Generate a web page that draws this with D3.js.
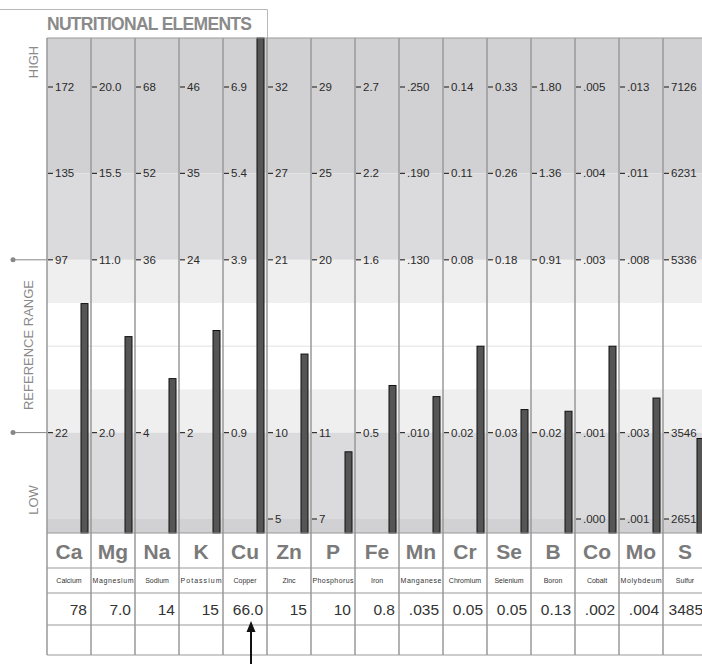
<!DOCTYPE html>
<meta charset="utf-8">
<style type="text/css">
body { margin: 0; background: #fff; }
svg { font-family: "Liberation Sans", Arial, Helvetica, sans-serif; }
</style>
<body>
<script src="https://d3js.org/d3.v7.min.js"></script>
<script>
// Data
let symbols = ["Ca", "Mg", "Na", "K", "Cu", "Zn", "P", "Fe", "Mn", "Cr", "Se", "B", "Co", "Mo", "S"];
let names = ["Calcium", "Magnesium", "Sodium", "Potassium", "Copper", "Zinc", "Phosphorus", "Iron",
             "Manganese", "Chromium", "Selenium", "Boron", "Cobalt", "Molybdeum", "Sulfur"];
let results = ["78", "7.0", "14", "15", "66.0", "15", "10", "0.8", ".035", "0.05", "0.05", "0.13", ".002", ".004", "3485"];
// tick labels for each column, by level (0 = top / high, 4 = low, 5 = bottom)
let highTicks  = ["172", "20.0", "68", "46", "6.9", "32", "29", "2.7", ".250", "0.14", "0.33", "1.80", ".005", ".013", "7126"];
let upperTicks = ["135", "15.5", "52", "35", "5.4", "27", "25", "2.2", ".190", "0.11", "0.26", "1.36", ".004", ".011", "6231"];
let refHighTicks = ["97", "11.0", "36", "24", "3.9", "21", "20", "1.6", ".130", "0.08", "0.18", "0.91", ".003", ".008", "5336"];
let refLowTicks  = ["22", "2.0", "4", "2", "0.9", "10", "11", "0.5", ".010", "0.02", "0.03", "0.02", ".001", ".003", "3546"];
let bottomTicks  = [null, null, null, null, null, "5", "7", null, null, null, null, null, ".000", ".001", "2651"];

let W = 702, H = 664;
let svg = d3.select("body").append("svg").attr("width", W).attr("height", H);

let left = 47, colW = 44;
let plotTop = 38, plotBottom = 533;
let tableRows = [533, 568, 593, 625, 655];

let x = d3.scaleBand().domain(symbols).range([left, left + colW * symbols.length]);
// level scale: 0 = high tick ... 5 = bottom tick
let level = d3.scaleLinear().domain([0, 5]).range([87, 519]);

// background bands
let bands = [
    [plotTop, level(1), "#d1d1d3"],
    [level(1), level(2), "#dbdbdd"],
    [level(2), level(2.5), "#efefef"],
    [level(2.5), level(3.5), "#ffffff"],
    [level(3.5), level(4), "#efefef"],
    [level(4), level(5), "#dbdbdd"],
    [level(5), plotBottom, "#d1d1d3"]
];
svg.selectAll("rect.band").data(bands).enter().append("rect")
    .attr("class", "band")
    .attr("x", left).attr("width", W - left)
    .attr("y", d => d[0]).attr("height", d => d[1] - d[0])
    .attr("fill", d => d[2]);

svg.append("line").attr("x1", left).attr("x2", W)
    .attr("y1", level(3)).attr("y2", level(3))
    .attr("stroke", "#ececec").attr("stroke-width", 1.5);

// header frame
svg.append("path").attr("d", "M0,9.5H267.5V38").attr("fill", "none").attr("stroke", "#b8b8b8");
svg.append("text").attr("x", 47).attr("y", 30)
    .attr("font-size", 17.5).attr("font-weight", "bold").attr("fill", "#8a8a8a")
    .attr("textLength", 205).text("NUTRITIONAL  ELEMENTS");

// left labels
function sideLabel(txt, cx, cy) {
    svg.append("text").attr("transform", "translate(" + cx + "," + cy + ") rotate(-90)")
        .attr("text-anchor", "middle").attr("dy", "0.35em")
        .attr("font-size", 13).attr("fill", "#8a8a8a").text(txt);
}
sideLabel("HIGH", 33, 62);
sideLabel("REFERENCE RANGE", 28, 345);
sideLabel("LOW", 33, 500);

[level(2), level(4)].forEach(function(y) {
    svg.append("line").attr("x1", 13).attr("x2", left).attr("y1", y).attr("y2", y)
        .attr("stroke", "#888").attr("stroke-width", 1);
    svg.append("circle").attr("cx", 13).attr("cy", y).attr("r", 2.5).attr("fill", "#888");
});

// tick labels
let tickRows = [[0, highTicks], [1, upperTicks], [2, refHighTicks], [4, refLowTicks], [5, bottomTicks]];
tickRows.forEach(function(row) {
    let lv = row[0], labels = row[1];
    let g = svg.append("g");
    symbols.forEach(function(s, i) {
        if (labels[i] == null) return;
        let y = level(lv);
        g.append("line").attr("x1", x(s) + 1).attr("x2", x(s) + 6)
            .attr("y1", y).attr("y2", y).attr("stroke", "#333").attr("stroke-width", 1.2);
        g.append("text").attr("x", x(s) + 8).attr("y", y).attr("dy", "0.35em")
            .attr("font-size", 11.5).attr("fill", "#2a2a2a").text(labels[i]);
    });
});

// bars: each column has its own linear scale from the reference low to the high tick
let bars = svg.selectAll("rect.bar")
    .data(symbols)
    .enter()
    .append("rect")
        .attr("class", "bar")
        .attr("x", d => x(d) + 34)
        .attr("width", 7)
        .attr("y", function(d, i) {
            let yScale = d3.scaleLinear()
                .domain([+refLowTicks[i], +highTicks[i]])
                .range([level(4), level(0)]);
            return Math.max(plotTop, Math.min(plotBottom, yScale(+results[i])));
        })
        .attr("height", function(d, i) {
            return plotBottom - d3.select(this).attr("y");
        })
        .attr("fill", "#555")
        .attr("stroke", "#111")
        .attr("stroke-width", 1);

// table
svg.selectAll("line.hrow").data(tableRows).enter().append("line")
    .attr("class", "hrow")
    .attr("x1", left).attr("x2", W).attr("y1", d => d).attr("y2", d => d)
    .attr("stroke", "#999").attr("stroke-width", 1.2);

svg.append("line").attr("x1", left).attr("x2", W).attr("y1", plotTop).attr("y2", plotTop)
    .attr("stroke", "#999").attr("stroke-width", 1.2);

let colLines = symbols.map(s => x(s));
svg.selectAll("line.vcol").data(colLines).enter().append("line")
    .attr("class", "vcol")
    .attr("x1", d => d).attr("x2", d => d).attr("y1", plotTop).attr("y2", 655)
    .attr("stroke", "#999").attr("stroke-width", 1.5);

svg.selectAll("text.sym").data(symbols).enter().append("text")
    .attr("class", "sym")
    .attr("x", d => x(d) + colW / 2).attr("y", 559)
    .attr("text-anchor", "middle").attr("font-size", 21).attr("font-weight", "bold")
    .attr("fill", "#7a7a7a").text(d => d);

svg.selectAll("text.name").data(names).enter().append("text")
    .attr("class", "name")
    .attr("x", (d, i) => x(symbols[i]) + colW / 2).attr("y", 583)
    .attr("text-anchor", "middle").attr("font-size", 7)
    .attr("textLength", d => d.length > 8 ? 41 : null)
    .attr("fill", "#333").text(d => d);

svg.selectAll("text.val").data(results).enter().append("text")
    .attr("class", "val")
    .attr("x", (d, i) => x(symbols[i]) + 40).attr("y", 615)
    .attr("text-anchor", "end").attr("font-size", 15.5)
    .attr("fill", "#333").text(d => d);

// arrow under copper
let ax = x("Cu") + 28;
svg.append("line").attr("x1", ax).attr("x2", ax).attr("y1", 630).attr("y2", H)
    .attr("stroke", "#111").attr("stroke-width", 2);
svg.append("path").attr("d", "M" + ax + ",621L" + (ax - 4.5) + ",632L" + (ax + 4.5) + ",632Z").attr("fill", "#111");
</script>
</body>
</html>
